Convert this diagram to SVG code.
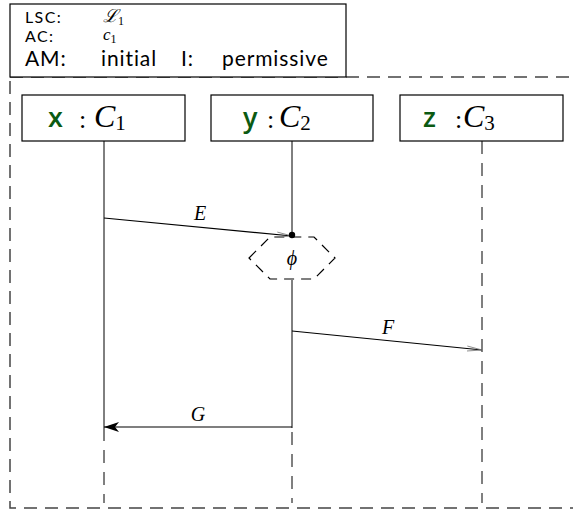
<svg xmlns="http://www.w3.org/2000/svg" width="573" height="509" viewBox="0 0 573 509">
<defs>
<style>
.box{fill:#fff;stroke:#000;stroke-width:1.2}
.frame{fill:none;stroke:#444;stroke-width:1.5;stroke-dasharray:13 8}
.life{stroke:#000;stroke-width:1;fill:none}
.dash{stroke-dasharray:13 9}
.msg{stroke:#000;stroke-width:1.2;fill:none}
.hdr{font-family:Lato,"Open Sans",sans-serif;fill:#000}
.small{font-size:16px;letter-spacing:1.4px}
.big{font-size:21px;letter-spacing:0.9px}
.math{font-family:"Liberation Serif",serif;font-style:italic;fill:#000}
.rm{font-family:"Liberation Serif",serif;fill:#000}
.obj{font-family:"Open Sans",sans-serif;fill:#0b5a12;font-weight:600;font-size:27px}
.cls{font-family:"Liberation Serif",serif;font-style:italic;fill:#000;font-size:32px}
.sub{font-style:normal;font-size:21px}
</style>
<marker id="open" markerWidth="16" markerHeight="8" refX="15" refY="4" orient="auto" markerUnits="userSpaceOnUse">
<path d="M0,1.5 L15,4 L0,6.5" fill="none" stroke="#777" stroke-width="0.8"/>
</marker>
<marker id="fill" markerWidth="16" markerHeight="10" refX="15" refY="5" orient="auto" markerUnits="userSpaceOnUse">
<path d="M0,0 L15,5 L0,10 L4,5 Z" fill="#000"/>
</marker>
</defs>
<rect class="frame" x="10" y="77" width="575" height="431"/>
<g id="header">
<rect class="box" x="10" y="4" width="336" height="73"/>
<text class="hdr small" x="25" y="23">LSC:</text>
<text class="math" x="103" y="22" font-size="18">ℒ<tspan font-size="12" font-style="normal" dy="3">1</tspan></text>
<text class="hdr small" x="25" y="42">AC:</text>
<text class="math" x="103" y="40" font-size="17">c<tspan font-size="12" font-style="normal" dy="3">1</tspan></text>
<text class="hdr big" x="25" y="66">AM:</text>
<text class="hdr big" x="101" y="66">initial</text>
<text class="hdr big" x="181" y="66">I:</text>
<text class="hdr big" x="222" y="66">permissive</text>
</g>
<g id="lifelines">
<path class="life" d="M104,141 V428"/>
<path class="life dash" d="M104,428 V503"/>
<path class="life" d="M292,141 V236 M292,280 V428"/>
<path class="life dash" d="M292,432 V503"/>
<path class="life dash" d="M482,141 V503"/>
</g>
<g id="x">
<rect class="box" x="22" y="95" width="163" height="46"/>
<text class="obj" x="48" y="127">x</text>
<text class="rm" x="79" y="128" font-size="26">:</text>
<text class="cls" x="94" y="127">C<tspan class="sub" dy="3">1</tspan></text>
</g>
<g id="y">
<rect class="box" x="211" y="95" width="162" height="46"/>
<text class="obj" x="243" y="127">y</text>
<text class="rm" x="267" y="128" font-size="26">:</text>
<text class="cls" x="279" y="127">C<tspan class="sub" dy="3">2</tspan></text>
</g>
<g id="z">
<rect class="box" x="400" y="95" width="163" height="46"/>
<text class="obj" x="423" y="127">z</text>
<text class="rm" x="455" y="128" font-size="26">:</text>
<text class="cls" x="463" y="127">C<tspan class="sub" dy="3">3</tspan></text>
</g>
<g id="cond">
<polygon points="249,258 270,237 314,237 335,258 314,279 270,279" fill="#fff" stroke="#000" stroke-width="1.2" stroke-dasharray="10 7"/>
<text class="math" x="292" y="265" font-size="20" text-anchor="middle">ϕ</text>
</g>
<g id="connectors">
<path class="msg" d="M104,218 L292,236" marker-end="url(#open)"/>
<circle cx="292" cy="235" r="3.2" fill="#000"/>
<text class="math" x="200" y="220" font-size="20" text-anchor="middle">E</text>
<path class="msg" d="M292,331 L482,350" marker-end="url(#open)"/>
<text class="math" x="388" y="334" font-size="20" text-anchor="middle">F</text>
<path class="msg" d="M292,427 L104,427" marker-end="url(#fill)"/>
<text class="math" x="198" y="421" font-size="20" text-anchor="middle">G</text>
</g>
</svg>
